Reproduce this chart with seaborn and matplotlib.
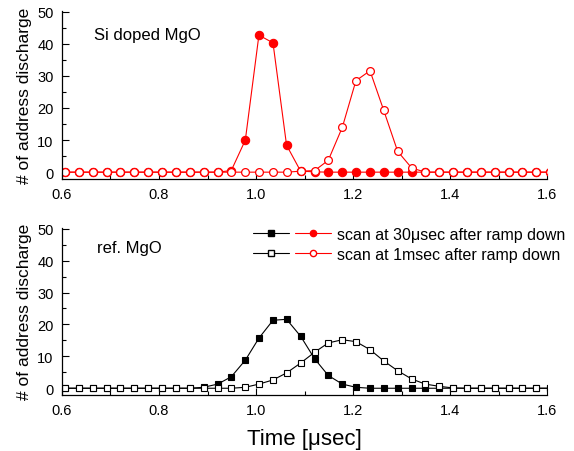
import matplotlib
matplotlib.use("Agg")
import matplotlib.pyplot as plt
from matplotlib.ticker import MultipleLocator
from matplotlib.legend_handler import HandlerTuple
from matplotlib.lines import Line2D
import seaborn as sns

# scan time axis [usec]
times = [0.606, 0.635, 0.663, 0.692, 0.720, 0.749, 0.778, 0.806, 0.835, 0.863,
         0.892, 0.921, 0.949, 0.978, 1.006, 1.035, 1.063, 1.092, 1.121, 1.149,
         1.178, 1.206, 1.235, 1.263, 1.292, 1.321, 1.349, 1.378, 1.406, 1.435,
         1.463, 1.492, 1.521, 1.549, 1.578, 1.607]

# Si doped MgO
si_30us = [0, 0, 0, 0, 0, 0, 0, 0, 0, 0,
           0, 0, 0.5, 10, 42.7, 40.3, 8.4, 0.3, 0.1, 0,
           0, 0, 0, 0, 0, 0, 0, 0, 0, 0,
           0, 0, 0, 0, 0, 0]
si_1ms = [0, 0, 0, 0, 0, 0, 0, 0, 0, 0,
          0, 0, 0, 0, 0, 0, 0, 0.3, 0.5, 3.7,
          14.0, 28.5, 31.6, 19.4, 6.5, 1.3, 0, 0, 0, 0,
          0, 0, 0, 0, 0, 0]

# reference MgO
ref_30us = [0, 0, 0, 0, 0, 0, 0, 0, 0, 0,
            0.3, 1.3, 3.6, 8.8, 15.7, 21.3, 21.6, 16.3, 9.2, 4.0,
            1.3, 0.3, 0, 0, 0, 0, 0, 0, 0, 0,
            0, 0, 0, 0, 0, 0]
ref_1ms = [0, 0, 0, 0, 0, 0, 0, 0, 0, 0,
           0, 0, 0, 0.3, 1.3, 2.6, 4.8, 7.9, 11.3, 14.2,
           15.2, 14.6, 12.1, 8.6, 5.5, 2.9, 1.3, 0.6, 0.1, 0,
           0, 0, 0, 0, 0, 0]

legend_labels = ["scan at 30\u03bcsec after ramp down",
                 "scan at 1msec after ramp down"]

sns.set_style("ticks")
plt.rcParams["font.family"] = ["Liberation Sans", "DejaVu Sans"]
plt.rcParams.update({"text.color": "black", "axes.labelcolor": "black",
                     "xtick.color": "black", "ytick.color": "black"})

fig = plt.figure(figsize=(5.74, 4.52), dpi=100)
ax_top = fig.add_axes([0.108, 0.602, 0.845, 0.372])
ax_bot = fig.add_axes([0.108, 0.124, 0.845, 0.370])

RED = "#ff0000"
lw = 0.8

# top panel: circles
sns.lineplot(x=times, y=si_30us, ax=ax_top, color=RED, lw=lw, marker="o",
             markersize=6, markerfacecolor=RED, markeredgecolor=RED,
             markeredgewidth=0.8, sort=False)
sns.lineplot(x=times, y=si_1ms, ax=ax_top, color=RED, lw=lw, marker="o",
             markersize=5.6, markerfacecolor="white", markeredgecolor=RED,
             markeredgewidth=0.9, sort=False)

# bottom panel: squares
sns.lineplot(x=times, y=ref_30us, ax=ax_bot, color="black", lw=lw, marker="s",
             markersize=5, markerfacecolor="black", markeredgecolor="black",
             markeredgewidth=0.8, sort=False)
sns.lineplot(x=times, y=ref_1ms, ax=ax_bot, color="black", lw=lw, marker="s",
             markersize=4.8, markerfacecolor="white", markeredgecolor="black",
             markeredgewidth=0.8, sort=False)

for ax in (ax_top, ax_bot):
    ax.set_xlim(0.6, 1.6)
    ax.set_ylim(-2.1, 50.3)
    ax.xaxis.set_major_locator(MultipleLocator(0.2))
    ax.xaxis.set_minor_locator(MultipleLocator(0.1))
    ax.yaxis.set_major_locator(MultipleLocator(10))
    ax.yaxis.set_minor_locator(MultipleLocator(5))
    ax.set_xticks([0.6, 0.8, 1.0, 1.2, 1.4, 1.6])
    ax.set_xticklabels(["0.6", "0.8", "1.0", "1.2", "1.4", "1.6"])
    ax.tick_params(which="major", direction="in", length=5, width=0.8,
                   labelsize=10.5, pad=6, color="black", labelcolor="black")
    ax.tick_params(which="minor", direction="in", length=3, width=0.8)
    for s in ("top", "right"):
        ax.spines[s].set_visible(False)
    for s in ("left", "bottom"):
        ax.spines[s].set_linewidth(0.9)
        ax.spines[s].set_color("black")
    ax.set_ylabel("# of address discharge", fontsize=12.5, labelpad=4,
                  color="black")
    ax.set_xlabel("")

ax_top.text(0.065, 0.86, "Si doped MgO", transform=ax_top.transAxes,
            fontsize=12, va="center", ha="left", color="black")
ax_bot.text(0.072, 0.88, "ref. MgO", transform=ax_bot.transAxes,
            fontsize=12, va="center", ha="left", color="black")

ax_bot.set_xlabel("Time [\u03bcsec]", fontsize=16, labelpad=8, color="black")

# combined legend: black square series + red circle series
h_k_fill = Line2D([], [], color="black", lw=lw, marker="s", markersize=4,
                  mfc="black", mec="black")
h_r_fill = Line2D([], [], color=RED, lw=lw, marker="o", markersize=4.5,
                  mfc=RED, mec=RED)
h_k_open = Line2D([], [], color="black", lw=lw, marker="s", markersize=4,
                  mfc="white", mec="black")
h_r_open = Line2D([], [], color=RED, lw=lw, marker="o", markersize=4.5,
                  mfc="white", mec=RED)
leg = ax_bot.legend([(h_k_fill, h_r_fill), (h_k_open, h_r_open)], legend_labels,
                    handler_map={tuple: HandlerTuple(ndivide=None, pad=0.4)},
                    loc="upper right", bbox_to_anchor=(1.068, 1.09),
                    frameon=False, fontsize=11.5, handlelength=4.9,
                    handletextpad=0.4, labelspacing=0.3)
for t in leg.get_texts():
    t.set_color("black")

fig.savefig("out.png", dpi=100)
